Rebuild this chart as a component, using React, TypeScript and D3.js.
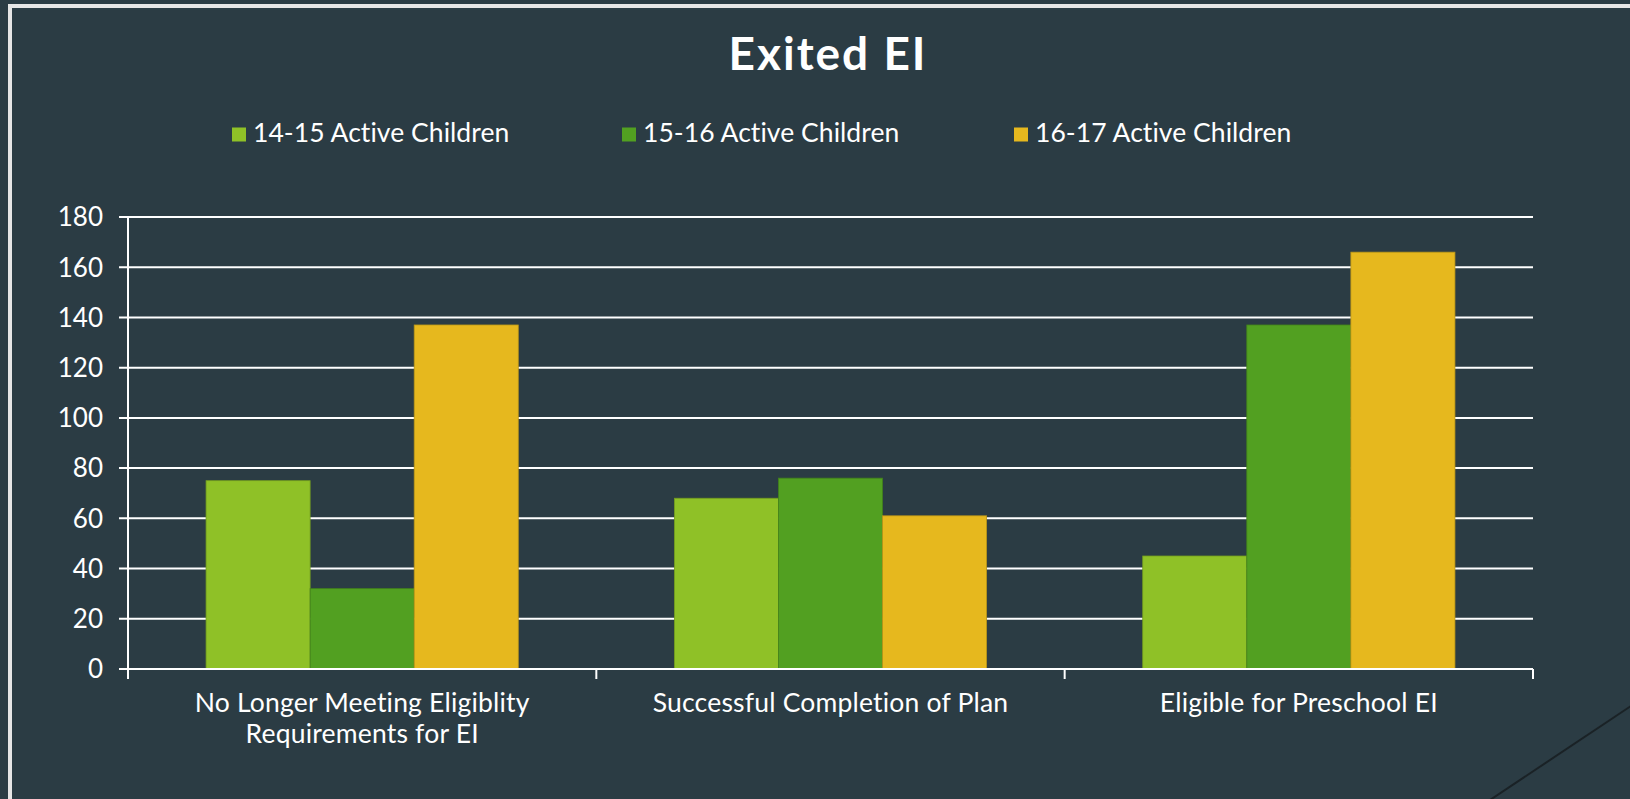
import React from "react";
import * as d3 from "d3";

const categories = [
  ["No Longer Meeting Eligiblity", "Requirements for EI"],
  ["Successful Completion of Plan"],
  ["Eligible for Preschool EI"],
];
const seriesNames = ["14-15 Active Children", "15-16 Active Children", "16-17 Active Children"];
const seriesColors = ["#8fc127", "#52a021", "#e6b81e"];
const values14 = [75, 68, 45];
const values15 = [32, 76, 137];
const values16 = [137, 61, 166];
const yTicks = [0, 20, 40, 60, 80, 100, 120, 140, 160, 180];

const W = 1630;
const H = 799;
const BG = "#2b3c44";
const FONT = "Lato, 'Open Sans', sans-serif";
const textStyle: React.CSSProperties = { fontVariantLigatures: "none" };

export default function App() {
  const plot = { left: 128, right: 1533, top: 217, bottom: 669 };
  const series = [values14, values15, values16];

  const x = d3
    .scaleBand<number>()
    .domain(categories.map((_, i) => i))
    .range([plot.left, plot.right])
    .paddingInner(0)
    .paddingOuter(0);
  // Excel gap width 150%: the bars take 3 / 4.5 of a band
  const groupW = (x.bandwidth() * 3) / 4.5;
  const inner = d3
    .scaleBand<number>()
    .domain([0, 1, 2])
    .range([0, groupW]);
  const y = d3.scaleLinear().domain([0, 180]).range([plot.bottom, plot.top]);

  const legendX = [232, 622, 1014];

  return (
    <div style={{ position: "fixed", left: 0, top: 0, width: W, height: H, background: BG }}>
      <svg width={W} height={H} style={{ display: "block" }}>
        <rect x={0} y={0} width={W} height={H} fill={BG} />
        {/* slide frame */}
        <rect x={8} y={4} width={W - 8} height={4} fill="#e6e6e6" />
        <rect x={8} y={4} width={4} height={H - 4} fill="#e6e6e6" />
        <line x1={1490} y1={800} x2={1640} y2={700} stroke="#1a2226" strokeWidth={2} />

        <text
          x={828}
          y={70}
          textAnchor="middle"
          fill="#ffffff"
          fontFamily={FONT}
          fontWeight={700}
          fontSize={46}
          letterSpacing={2}
          style={textStyle}
        >
          Exited EI
        </text>

        {seriesNames.map((name, i) => (
          <g key={name} transform={`translate(${legendX[i]},0)`}>
            <rect x={0} y={127.5} width={14} height={14} fill={seriesColors[i]} />
            <text
              x={21}
              y={142}
              fill="#ffffff"
              fontFamily={FONT}
              fontSize={26.5}
              letterSpacing={0.05}
              style={textStyle}
            >
              {name}
            </text>
          </g>
        ))}

        {/* gridlines */}
        {yTicks.map((t) => (
          <g key={t}>
            <line
              x1={plot.left - 9}
              x2={plot.right}
              y1={y(t)}
              y2={y(t)}
              stroke="#ffffff"
              strokeWidth={2}
            />
            <text
              x={103}
              y={y(t)}
              dy="0.36em"
              textAnchor="end"
              fill="#ffffff"
              fontFamily={FONT}
              fontSize={26}
              style={textStyle}
            >
              {t}
            </text>
          </g>
        ))}

        {/* bars */}
        {categories.map((_, ci) => {
          const gx = (x(ci) ?? 0) + (x.bandwidth() - groupW) / 2;
          return (
            <g key={ci}>
              {series.map((vals, si) => (
                <rect
                  key={si}
                  x={gx + (inner(si) ?? 0)}
                  y={y(vals[ci])}
                  width={inner.bandwidth()}
                  height={y(0) - y(vals[ci])}
                  fill={seriesColors[si]}
                  stroke={d3.color(seriesColors[si])!.darker(0.6).toString()}
                  strokeWidth={0.8}
                />
              ))}
            </g>
          );
        })}

        {/* axes */}
        <line x1={plot.left} x2={plot.left} y1={plot.top} y2={plot.bottom + 10} stroke="#ffffff" strokeWidth={2} />
        <line x1={plot.left - 9} x2={plot.right} y1={plot.bottom} y2={plot.bottom} stroke="#ffffff" strokeWidth={2} />
        {categories.map((_, i) => (
          <line
            key={i}
            x1={(x(i) ?? 0) + x.bandwidth()}
            x2={(x(i) ?? 0) + x.bandwidth()}
            y1={plot.bottom}
            y2={plot.bottom + 10}
            stroke="#ffffff"
            strokeWidth={2}
          />
        ))}
        {categories.map((lines, i) => (
          <text
            key={i}
            x={(x(i) ?? 0) + x.bandwidth() / 2}
            y={712}
            textAnchor="middle"
            fill="#ffffff"
            fontFamily={FONT}
            fontSize={26.5}
            letterSpacing={0.2}
            style={textStyle}
          >
            {lines.map((l, li) => (
              <tspan key={li} x={(x(i) ?? 0) + x.bandwidth() / 2} dy={li === 0 ? 0 : 31}>
                {l}
              </tspan>
            ))}
          </text>
        ))}
      </svg>
    </div>
  );
}
